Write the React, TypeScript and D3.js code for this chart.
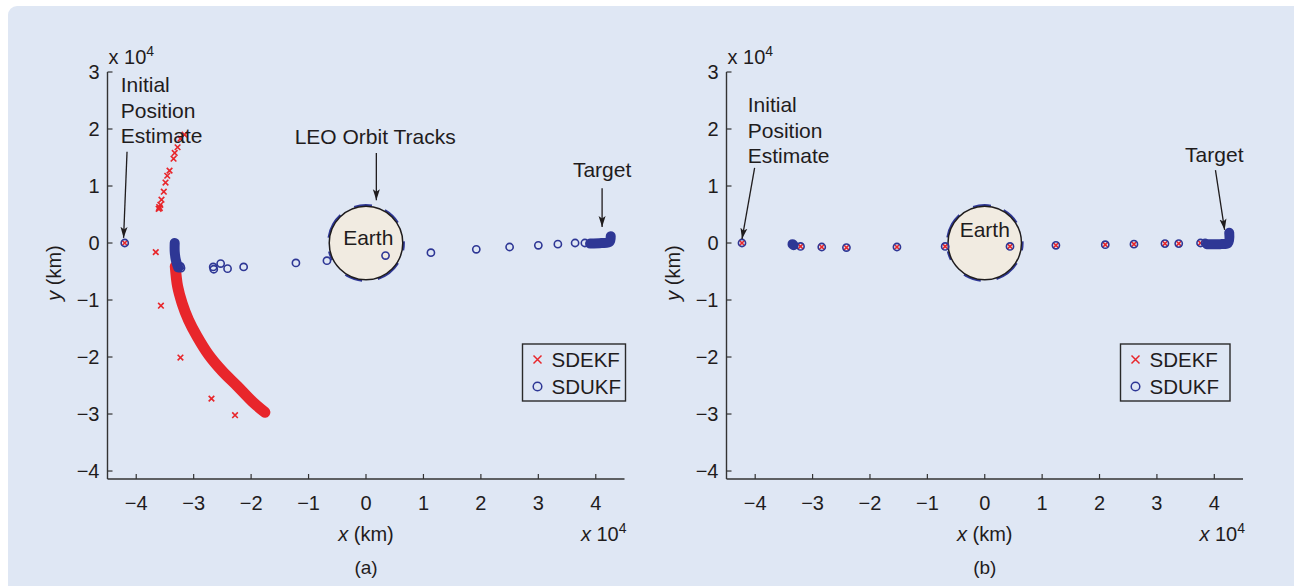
import * as d3 from "d3";

// Axis values are in units of 10^4 km
const X_TICKS = [-4, -3, -2, -1, 0, 1, 2, 3, 4];
const Y_TICKS = [-4, -3, -2, -1, 0, 1, 2, 3];
const X_DOMAIN: [number, number] = [-4.5, 4.5];
const Y_DOMAIN: [number, number] = [-4.14, 3];
const EARTH_R = 0.64;
const ORBIT_R = 0.66;
const SERIES = ["SDEKF", "SDUKF"];

// (a) individual estimates
const A_EKF_POINTS: [number, number][] = [
  [-4.2, 0], [-3.66, -0.16], [-3.57, -1.1], [-3.23, -2.01], [-2.69, -2.73], [-2.28, -3.02],
  [-3.61, 0.6], [-3.6, 0.63], [-3.59, 0.61], [-3.58, 0.67], [-3.56, 0.76], [-3.52, 0.9],
  [-3.49, 1.06], [-3.46, 1.18], [-3.42, 1.27], [-3.35, 1.48], [-3.33, 1.58], [-3.28, 1.68],
  [-3.23, 1.83], [-3.16, 1.9], [-1.76, -2.98],
];
// (a) dense SDEKF track (hundreds of overlapping crosses)
const A_EKF_TRACK: [number, number][] = [
  [-3.32, -0.41], [-3.28, -0.76], [-3.2, -1.06], [-3.09, -1.35], [-2.94, -1.64],
  [-2.74, -1.96], [-2.5, -2.25], [-2.24, -2.51], [-1.98, -2.78], [-1.76, -2.97],
];
const A_UKF_POINTS: [number, number][] = [
  [-4.2, 0], [-3.23, -0.41], [-3.22, -0.44], [-2.65, -0.46], [-2.66, -0.42], [-2.53, -0.36],
  [-2.41, -0.45], [-2.13, -0.42], [-1.22, -0.35], [-0.68, -0.31], [0.34, -0.22], [1.13, -0.17],
  [1.92, -0.11], [2.5, -0.07], [3.0, -0.04], [3.34, -0.02], [3.64, 0.0], [3.81, 0.0],
];
const A_UKF_TRACKS: [number, number][][] = [
  [[-3.33, 0.0], [-3.33, -0.15], [-3.31, -0.3], [-3.27, -0.43]],
  [[3.9, -0.01], [4.1, 0.0], [4.24, 0.02], [4.26, 0.12]],
];

// (b) SDEKF and SDUKF estimates coincide
const B_EKF_POINTS: [number, number][] = [
  [-4.23, 0], [-3.33, -0.03], [-3.21, -0.06], [-2.84, -0.07], [-2.41, -0.08], [-1.53, -0.07],
  [-0.69, -0.06], [0.44, -0.06], [1.24, -0.04], [2.1, -0.03], [2.6, -0.02], [3.14, -0.01],
  [3.38, -0.01], [3.76, 0.0], [3.84, 0.0],
];
const B_UKF_POINTS: [number, number][] = [
  [-4.23, 0], [-3.21, -0.06], [-2.84, -0.07], [-2.41, -0.08], [-1.53, -0.07],
  [-0.69, -0.06], [0.44, -0.06], [1.24, -0.04], [2.1, -0.03], [2.6, -0.02], [3.14, -0.01],
  [3.38, -0.01], [3.76, 0.0], [3.84, 0.0],
];
const B_UKF_TRACKS: [number, number][][] = [
  [[-3.35, -0.02], [-3.33, -0.04]],
  [[3.87, -0.02], [4.1, -0.02], [4.24, 0.0], [4.26, 0.18]],
];

const FONT = "'Liberation Sans', Arial, Helvetica, sans-serif";
const INK = "#1f1c1d";
const RED = "#e8262b";
const BLUE = "#2e3795";
const BG = "#dfe7f4";

type Note = { lines: string[]; tx: number; ty: number; anchor: "start" | "middle"; arrow?: [number, number, number, number] };

interface PanelProps {
  x0: number;
  x1: number;
  tag: string;
  ekf: [number, number][];
  ekfTrack?: [number, number][];
  ukf: [number, number][];
  ukfTracks: [number, number][][];
  notes: Note[];
  earthLabel: [number, number];
  legendX: number;
  legendW: number;
}

function Panel(p: PanelProps) {
  const x = d3.scaleLinear().domain(X_DOMAIN).range([p.x0, p.x1]);
  const y = d3.scaleLinear().domain(Y_DOMAIN).range([479, 72]);
  const line = d3.line<[number, number]>().x((d) => x(d[0])).y((d) => y(d[1])).curve(d3.curveCatmullRom);
  const cx = (p.x0 + p.x1) / 2;
  const er = x(EARTH_R) - x(0);
  const or = x(ORBIT_R) - x(0);
  const lx = p.legendX;

  return (
    <g fontFamily={FONT} fill={INK}>
      {/* orbit tracks + Earth */}
      <circle cx={x(0)} cy={y(0)} r={or} fill="none" stroke={BLUE} strokeWidth={2}
        strokeDasharray="18 20 9 14 26 16" transform={`rotate(-60 ${x(0)} ${y(0)})`} />
      <circle cx={x(0)} cy={y(0)} r={er} fill="#f1ebe1" stroke={INK} strokeWidth={1.5} />
      <text x={x(p.earthLabel[0])} y={y(p.earthLabel[1])} textAnchor="middle" dy="0.35em" fontSize={21}>Earth</text>

      {/* SDEKF */}
      {p.ekfTrack && (
        <path d={line(p.ekfTrack) ?? ""} fill="none" stroke={RED} strokeWidth={11} strokeLinecap="round" />
      )}
      {p.ekf.map((d, i) => (
        <path key={`e${i}`} transform={`translate(${x(d[0])},${y(d[1])})`}
          d="M-2.8,-2.8L2.8,2.8M-2.8,2.8L2.8,-2.8" stroke={RED} strokeWidth={1.6} fill="none" />
      ))}

      {/* SDUKF */}
      {p.ukfTracks.map((t, i) => (
        <path key={`t${i}`} d={line(t) ?? ""} fill="none" stroke={BLUE} strokeWidth={10} strokeLinecap="round" />
      ))}
      {p.ukf.map((d, i) => (
        <circle key={`u${i}`} cx={x(d[0])} cy={y(d[1])} r={3.6} fill="none" stroke={BLUE} strokeWidth={1.6} />
      ))}

      {/* axes */}
      <line x1={p.x0} x2={p.x1} y1={479} y2={479} stroke="#333" strokeWidth={1.4} />
      <line x1={p.x0} x2={p.x0} y1={72} y2={479} stroke="#333" strokeWidth={1.4} />
      {X_TICKS.map((t) => (
        <g key={`x${t}`}>
          <line x1={x(t)} x2={x(t)} y1={479} y2={474} stroke="#333" strokeWidth={1.2} />
          <text x={x(t)} y={503} dy="0.35em" textAnchor="middle" fontSize={20}>{t < 0 ? `\u2212${-t}` : t}</text>
        </g>
      ))}
      {Y_TICKS.map((t) => (
        <g key={`y${t}`}>
          <line x1={p.x0} x2={p.x0 + 5} y1={y(t)} y2={y(t)} stroke="#333" strokeWidth={1.2} />
          <text x={p.x0 - 8} y={y(t)} dy="0.35em" textAnchor="end" fontSize={20}>{t < 0 ? `\u2212${-t}` : t}</text>
        </g>
      ))}
      <text x={p.x0 + 1} y={64} fontSize={20}>x 10<tspan dy={-8} fontSize={14}>4</tspan></text>
      <text x={p.x1 + 2} y={541} textAnchor="end" fontSize={20}>
        <tspan fontStyle="italic">x</tspan> 10<tspan dy={-8} fontSize={14}>4</tspan>
      </text>
      <text x={cx} y={534} dy="0.35em" textAnchor="middle" fontSize={20}>
        <tspan fontStyle="italic">x</tspan> (km)
      </text>
      <text x={cx} y={567} dy="0.35em" textAnchor="middle" fontSize={19}>{p.tag}</text>
      <text transform={`translate(${p.x0 - 54},${273}) rotate(-90)`} dy="0.35em" textAnchor="middle" fontSize={20}>
        <tspan fontStyle="italic">y</tspan> (km)
      </text>

      {/* annotations */}
      {p.notes.map((n, i) => (
        <g key={`n${i}`}>
          {n.lines.map((s, j) => (
            <text key={j} x={x(n.tx)} y={y(n.ty) + j * 25.5} dy="0.35em" textAnchor={n.anchor} fontSize={21}>{s}</text>
          ))}
          {n.arrow && (
            <line x1={x(n.arrow[0])} y1={y(n.arrow[1])} x2={x(n.arrow[2])} y2={y(n.arrow[3])}
              stroke={INK} strokeWidth={1.3} markerEnd="url(#arrowhead)" />
          )}
        </g>
      ))}

      {/* legend */}
      <rect x={lx} y={344} width={p.legendW} height={57} fill="none" stroke="#2a2a2a" strokeWidth={1.4} />
      <path transform={`translate(${lx + 15},${359.5})`} d="M-4,-4L4,4M-4,4L4,-4" stroke={RED} strokeWidth={1.5} fill="none" />
      <circle cx={lx + 15} cy={386.5} r={4.3} fill="none" stroke={BLUE} strokeWidth={1.5} />
      <text x={lx + 29} y={359.5} dy="0.35em" fontSize={20.5}>{SERIES[0]}</text>
      <text x={lx + 29} y={386.5} dy="0.35em" fontSize={20.5}>{SERIES[1]}</text>
    </g>
  );
}

export default function App() {
  return (
    <svg width={1294} height={586} style={{ position: "absolute", left: 0, top: 0 }}>
      <defs>
        <marker id="arrowhead" viewBox="0 0 12 8" refX={11} refY={4} markerWidth={12} markerHeight={8}
          markerUnits="userSpaceOnUse" orient="auto">
          <path d="M0,0.5L11,4L0,7.5L2.5,4Z" fill={INK} />
        </marker>
      </defs>
      <rect x={0} y={0} width={1294} height={586} fill="#ffffff" />
      <rect x={8} y={6} width={1300} height={600} rx={9} fill={BG} />
      <Panel
        x0={107.5} x1={624.5} tag="(a)"
        ekf={A_EKF_POINTS} ekfTrack={A_EKF_TRACK}
        ukf={A_UKF_POINTS} ukfTracks={A_UKF_TRACKS}
        earthLabel={[0.04, 0.09]}
        legendX={522.5} legendW={103}
        notes={[
          { lines: ["Initial", "Position", "Estimate"], tx: -4.27, ty: 2.77, anchor: "start", arrow: [-4.16, 1.6, -4.22, 0.09] },
          { lines: ["LEO Orbit Tracks"], tx: 0.16, ty: 1.86, anchor: "middle", arrow: [0.18, 1.58, 0.18, 0.75] },
          { lines: ["Target"], tx: 4.11, ty: 1.28, anchor: "middle", arrow: [4.11, 0.96, 4.11, 0.28] },
        ]}
      />
      <Panel
        x0={726.5} x1={1243} tag="(b)"
        ekf={B_EKF_POINTS}
        ukf={B_UKF_POINTS} ukfTracks={B_UKF_TRACKS}
        earthLabel={[0, 0.23]}
        legendX={1120.5} legendW={109.5}
        notes={[
          { lines: ["Initial", "Position", "Estimate"], tx: -4.13, ty: 2.42, anchor: "start", arrow: [-4.01, 1.32, -4.23, 0.07] },
          { lines: ["Target"], tx: 4.0, ty: 1.55, anchor: "middle", arrow: [4.02, 1.28, 4.18, 0.23] },
        ]}
      />
    </svg>
  );
}
